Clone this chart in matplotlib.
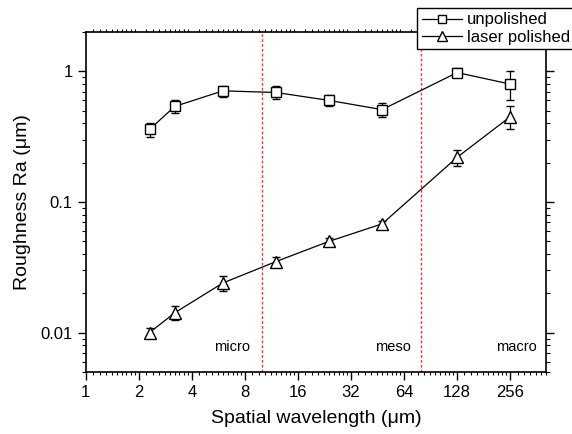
import numpy as np
import matplotlib.pyplot as plt
from matplotlib.lines import Line2D
from matplotlib.ticker import LogLocator, FixedLocator, NullFormatter, FixedFormatter

plt.rcParams['font.family'] = ['Liberation Sans', 'DejaVu Sans']

# data
wavelength = [2.3, 3.2, 6, 12, 24, 48, 128, 256]
unpolished = [0.36, 0.54, 0.71, 0.69, 0.60, 0.51, 0.98, 0.80]
unpolished_err = [0.045, 0.06, 0.07, 0.08, 0.06, 0.06, 0.08, 0.2]
laser = [0.0100, 0.0142, 0.024, 0.035, 0.050, 0.068, 0.22, 0.45]
laser_err = [0.0009, 0.0018, 0.003, 0.003, 0.003, 0.004, 0.03, 0.09]
x_ticks = [1, 2, 4, 8, 16, 32, 64, 128, 256]
y_ticks = [0.01, 0.1, 1]
y_tick_labels = ['0.01', '0.1', '1']
boundaries = [10, 80]
regions = ['micro', 'meso', 'macro']
region_x = [6.75, 55, 277]

fig = plt.figure(figsize=(5.72, 4.34), dpi=100)
ax = fig.add_axes([0.150, 0.143, 0.805, 0.783])

ax.errorbar(wavelength, unpolished, yerr=unpolished_err, color='black', lw=0.9,
            marker='s', ms=6.5, mfc='white', mec='black', mew=1.0,
            capsize=3, elinewidth=0.9, capthick=0.9)
ax.errorbar(wavelength, laser, yerr=laser_err, color='black', lw=0.9,
            marker='^', ms=8, mfc='white', mec='black', mew=1.0,
            capsize=3, elinewidth=0.9, capthick=0.9)

for b in boundaries:
    ax.axvline(b, color='#ff3333', ls=(0, (2, 1.5)), lw=1.0)

for name, xr in zip(regions, region_x):
    ax.text(xr, 0.0077, name, fontsize=10.5, ha='center', va='center')

ax.set_xscale('log', base=2)
ax.set_yscale('log')
ax.set_xlim(1, 410)
ax.set_ylim(0.005, 2)

ax.xaxis.set_major_locator(FixedLocator(x_ticks))
ax.xaxis.set_major_formatter(FixedFormatter([str(t) for t in x_ticks]))
ax.xaxis.set_minor_locator(LogLocator(base=2, subs=np.arange(1.0, 2.0, 0.1)))
ax.xaxis.set_minor_formatter(NullFormatter())
ax.yaxis.set_major_locator(FixedLocator(y_ticks))
ax.yaxis.set_major_formatter(FixedFormatter(y_tick_labels))
ax.yaxis.set_minor_locator(LogLocator(base=10, subs=np.arange(2, 10)))
ax.yaxis.set_minor_formatter(NullFormatter())

ax.tick_params(which='major', direction='out', length=6, width=1.0, labelsize=12,
               top=False, right=True, labelright=False)
ax.tick_params(which='minor', direction='out', length=3, width=0.8,
               top=True, right=True)
ax.tick_params(axis='x', which='minor', length=2)
for s in ax.spines.values():
    s.set_linewidth(1.2)

ax.set_xlabel('Spatial wavelength (\u03bcm)', fontsize=14, labelpad=7)
ax.set_ylabel('Roughness Ra (\u03bcm)', fontsize=14, labelpad=7)

handles = [
    Line2D([], [], color='black', lw=0.9, marker='s', ms=6, mfc='white', mec='black'),
    Line2D([], [], color='black', lw=0.9, marker='^', ms=7, mfc='white', mec='black'),
]
leg = ax.legend(handles, ['unpolished', 'laser polished'], loc='upper right',
                bbox_to_anchor=(1.06, 1.07), fontsize=12,
                frameon=True, fancybox=False, edgecolor='black', framealpha=1,
                handlelength=2.4, handletextpad=0.3, borderpad=0.25,
                labelspacing=0.15, borderaxespad=0)
leg.get_frame().set_linewidth(1.0)

fig.savefig('out.png', dpi=100)
